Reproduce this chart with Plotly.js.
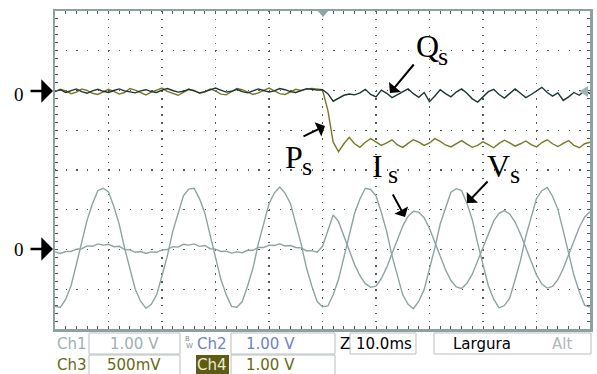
<!DOCTYPE html>
<html><head><meta charset="utf-8">
<script src="https://cdn.plot.ly/plotly-3.0.1.min.js"></script>
<style>html,body{margin:0;padding:0;background:#fff}#chart{width:597px;height:374px}</style>
</head><body><div id="chart"></div>
<script>
// time axis in ms (10 ms/div), values in screen divisions
const timeMs = [0,1,2,3,4,5,6,7,8,9,10,11,12,13,14,15,16,17,18,19,20,21,22,23,24,25,26,27,28,29,30,31,32,33,34,35,36,37,38,39,40,41,42,43,44,45,46,47,48,49,50,51,52,53,54,55,56,57,58,59,60,61,62,63,64,65,66,67,68,69,70,71,72,73,74,75,76,77,78,79,80,81,82,83,84,85,86,87,88,89,90,91,92,93,94,95,96,97,98,99,100];

const vsDiv = [
-3.43,-3.46,-3.25,-2.91,-2.37,-1.84,-1.26,-0.85,-0.52,-0.46,
-0.55,-0.92,-1.36,-1.96,-2.48,-3.00,-3.30,-3.48,-3.38,-3.14,
-2.66,-2.16,-1.55,-1.08,-0.65,-0.48,-0.46,-0.72,-1.08,-1.64,
-2.17,-2.75,-3.14,-3.43,-3.45,-3.31,-2.92,-2.47,-1.86,-1.35,
-0.85,-0.58,-0.43,-0.58,-0.84,-1.35,-1.86,-2.46,-2.92,-3.31,
-3.44,-3.42,-3.14,-2.75,-2.18,-1.65,-1.09,-0.73,-0.46,-0.49,
-0.65,-1.07,-1.55,-2.16,-2.66,-3.14,-3.38,-3.49,-3.30,-3.01,
-2.48,-1.96,-1.36,-0.93,-0.56,-0.47,-0.52,-0.84,-1.25,-1.84,
-2.37,-2.91,-3.25,-3.47,-3.41,-3.22,-2.76,-2.28,-1.67,-1.18,
-0.72,-0.52,-0.44,-0.66,-0.99,-1.53,-2.06,-2.65,-3.06,-3.40,
-3.45];

const isDiv = [
-2.06,-2.10,-2.05,-2.05,-1.99,-1.98,-1.91,-1.92,-1.86,-1.89,
-1.87,-1.93,-1.92,-2.00,-2.01,-2.07,-2.05,-2.10,-2.06,-2.07,
-2.01,-2.00,-1.93,-1.94,-1.87,-1.89,-1.86,-1.92,-1.90,-1.98,
-1.99,-2.05,-2.04,-2.09,-2.06,-2.08,-2.02,-2.02,-1.95,-1.95,
-1.89,-1.90,-1.86,-1.91,-1.90,-1.95,-1.96,-2.03,-2.03,-2.07,
-1.92,-1.55,-1.13,-1.30,-1.65,-2.02,-2.38,-2.66,-2.86,-2.95,
-2.92,-2.73,-2.45,-2.10,-1.73,-1.41,-1.16,-1.04,-1.06,-1.20,
-1.47,-1.80,-2.17,-2.51,-2.78,-2.94,-2.98,-2.85,-2.62,-2.29,
-1.93,-1.58,-1.28,-1.09,-1.02,-1.11,-1.31,-1.61,-1.97,-2.33,
-2.64,-2.87,-2.97,-2.93,-2.76,-2.48,-2.13,-1.77,-1.44,-1.18,
-1.05];

const psDiv = [
1.97,2.03,1.99,1.92,1.96,2.04,2.00,1.93,1.90,1.97,
2.03,1.98,1.91,1.95,2.05,2.01,1.94,1.89,1.96,2.02,
2.06,1.98,1.92,1.88,1.95,2.03,2.00,1.93,1.96,2.04,
1.99,1.91,1.89,1.97,2.05,2.02,1.95,1.90,1.94,2.01,
2.06,1.99,1.92,1.90,1.97,2.03,2.00,2.04,2.05,2.03,
2.02,1.50,0.70,0.46,0.66,0.82,0.66,0.57,0.70,0.79,
0.70,0.62,0.68,0.76,0.63,0.57,0.67,0.76,0.70,0.62,
0.68,0.79,0.72,0.63,0.58,0.66,0.74,0.65,0.57,0.62,
0.71,0.64,0.56,0.67,0.75,0.68,0.60,0.66,0.73,0.64,
0.58,0.69,0.76,0.66,0.59,0.67,0.74,0.62,0.56,0.66,
0.70];

const qsDiv = [
1.98,2.02,1.95,1.99,2.04,1.97,1.93,1.99,2.03,1.98,
1.95,2.00,2.04,1.99,1.96,1.94,1.99,2.02,1.97,1.95,
2.01,2.05,2.00,1.96,1.98,2.03,1.99,1.94,1.97,2.02,
2.06,2.01,1.96,1.98,2.03,1.97,1.94,1.99,2.04,2.00,
1.96,1.99,2.05,2.02,1.97,1.95,2.00,2.04,2.03,2.01,
2.02,1.92,1.73,1.80,1.88,1.91,1.89,1.94,2.03,1.90,
1.84,2.01,1.93,1.82,1.90,1.98,2.04,1.92,1.83,1.95,
1.72,1.86,2.02,1.92,1.84,1.96,2.04,1.93,1.79,1.71,
1.85,1.97,2.03,1.90,1.81,1.92,2.04,1.93,1.82,1.90,
1.99,2.08,1.95,1.86,1.94,1.75,1.84,1.95,1.88,2.00,
1.92];

const seriesNames = ['Vs','Is','Ps','Qs'];
const ch1Label = 'Ch1', ch1Scale = '1.00 V';
const ch2Label = 'Ch2', ch2Scale = '1.00 V';
const ch3Label = 'Ch3', ch3Scale = '500mV';
const ch4Label = 'Ch4', ch4Scale = '1.00 V';
const timeBase = '10.0ms', modeLabel = 'Largura', modeAlt = 'Alt';

// geometry helpers (pixel -> paper)
const L = 55, R = 590, T = 11, B = 329;
const X = px => (px - L) / (R - L);
const Y = py => (B - py) / (B - T);

const GRAY = '#8fa3a3', DARK = '#1c3636', OLIVE = '#7a7826';
const traces = [
  {x: timeMs, y: vsDiv, name: seriesNames[0], mode:'lines', line:{color:GRAY, width:1.4}, hoverinfo:'skip'},
  {x: timeMs, y: isDiv, name: seriesNames[1], mode:'lines', line:{color:GRAY, width:1.4}, hoverinfo:'skip'},
  {x: timeMs, y: psDiv, name: seriesNames[2], mode:'lines', line:{color:OLIVE, width:1.4}, hoverinfo:'skip'},
  {x: timeMs, y: qsDiv, name: seriesNames[3], mode:'lines', line:{color:DARK, width:1.4}, hoverinfo:'skip'}
];

const ann = [];
function txt(text, px, py, size, color, family, xanchor){
  ann.push({text:text, x:X(px), y:Y(py), xref:'paper', yref:'paper', showarrow:false,
    xanchor:xanchor||'left', yanchor:'middle', font:{family:family, size:size, color:color}});
}
function arrow(hx, hy, tx, ty, w, s){
  ann.push({text:'', x:X(hx), y:Y(hy), xref:'paper', yref:'paper', showarrow:true,
    ax: tx-hx, ay: ty-hy, arrowhead:1, arrowsize:s, arrowwidth:w, arrowcolor:'#000'});
}
const SERIF = 'Liberation Serif, Times New Roman, serif';
const SANS = 'DejaVu Sans, sans-serif';

// labels
txt('Q', 414, 46, 32, '#000', SERIF);
txt('s', 436, 57, 26, '#000', SERIF);
txt('P', 283, 157, 32, '#000', SERIF);
txt('s', 300, 166, 26, '#000', SERIF);
txt('I', 370, 166, 32, '#000', SERIF);
txt('s', 386, 174, 26, '#000', SERIF);
txt('V', 485, 166, 32, '#000', SERIF);
txt('s', 508, 174, 26, '#000', SERIF);
txt('0', 12, 94, 19, '#000', SERIF);
txt('0', 12, 250, 19, '#000', SERIF);
arrow(53, 91, 29, 91, 2.6, 1.5);
arrow(53, 249, 29, 249, 2.6, 1.5);
arrow(390, 93, 415, 63, 2, 1.3);
arrow(325, 126, 302, 137, 2, 1.3);
arrow(405, 217, 392, 193, 2, 1.3);
arrow(467, 203, 489, 180, 2, 1.3);

// status bar
const CH1C = '#9fb0b0', CH2C = '#6f82c8', CH3C = '#6b6812';
txt(ch1Label, 55, 344, 15, CH1C, SANS);
txt(ch1Scale, 134, 344, 15, CH1C, SANS, 'center');
txt('B', 183, 339, 7, '#7f8f8f', SANS);
txt('W', 184, 346, 7, '#7f8f8f', SANS);
txt(ch2Label, 195, 344, 15, CH2C, SANS);
txt(ch2Scale, 270, 344, 15, CH2C, SANS, 'center');
txt('Z', 338, 344, 15, '#000', SANS);
txt(timeBase, 384, 344, 15, '#000', SANS, 'center');
txt(modeLabel, 482, 344, 15, '#000', SANS, 'center');
txt(modeAlt, 562, 344, 15, '#b0b8b8', SANS, 'center');
txt(ch3Label, 55, 365, 15, CH3C, SANS);
txt(ch3Scale, 134, 365, 15, CH3C, SANS, 'center');
txt(ch4Label, 212, 365, 15, '#ecebd6', SANS, 'center');
txt(ch4Scale, 270, 365, 15, CH3C, SANS, 'center');

const BOX = '#b9bfbf';
function rect(x0,y0,x1,y1){
  return {type:'rect', xref:'paper', yref:'paper', x0:X(x0), x1:X(x1), y0:Y(y1), y1:Y(y0),
    line:{color:BOX, width:1}, fillcolor:'rgba(0,0,0,0)', layer:'above'};
}
const shapes = [
  rect(89,333,180,354), rect(231,333,335,354), rect(350,333,416,354), rect(434,333,591,354),
  rect(89,355,180,376), rect(231,355,335,376),
  {type:'rect', xref:'paper', yref:'paper', x0:X(196), x1:X(229), y0:Y(374), y1:Y(355), line:{width:0}, fillcolor:'#5e5c12'},
  {type:'path', xref:'paper', yref:'paper', path:`M ${X(317)} ${Y(10)} L ${X(329)} ${Y(10)} L ${X(323)} ${Y(17)} Z`, fillcolor:GRAY, line:{width:0}},
  {type:'path', xref:'paper', yref:'paper', path:`M ${X(588)} ${Y(86)} L ${X(588)} ${Y(97)} L ${X(579)} ${Y(91.5)} Z`, fillcolor:'#a3b2b2', line:{width:0}}
];

const GRID = '#4f5a5a';
const layout = {
  width:597, height:374, margin:{l:L, r:597-R, t:T, b:374-B},
  paper_bgcolor:'#fff', plot_bgcolor:'#fff', showlegend:false,
  xaxis:{range:[0,100], dtick:10, tick0:0, showticklabels:false, ticks:'inside', ticklen:3, tickcolor:GRID, tickwidth:1,
    minor:{dtick:2, ticks:'inside', ticklen:3, tickcolor:GRID, tickwidth:1, showgrid:false},
    showgrid:true, gridcolor:GRID, gridwidth:1.3, griddash:'1.3px,6.65px', zeroline:false,
    showline:true, linecolor:'#8fa0a0', linewidth:2.5, mirror:'ticks', fixedrange:true},
  yaxis:{range:[-4,4], dtick:1, tick0:0, showticklabels:false, ticks:'inside', ticklen:3, tickcolor:GRID, tickwidth:1,
    minor:{dtick:0.2, ticks:'inside', ticklen:3, tickcolor:GRID, tickwidth:1, showgrid:false},
    showgrid:true, gridcolor:GRID, gridwidth:1.3, griddash:'1.3px,9.4px', zeroline:false,
    showline:true, linecolor:'#8fa0a0', linewidth:2.5, mirror:'ticks', fixedrange:true},
  annotations: ann, shapes: shapes
};
Plotly.newPlot('chart', traces, layout, {staticPlot:true, displayModeBar:false});
</script></body></html>
